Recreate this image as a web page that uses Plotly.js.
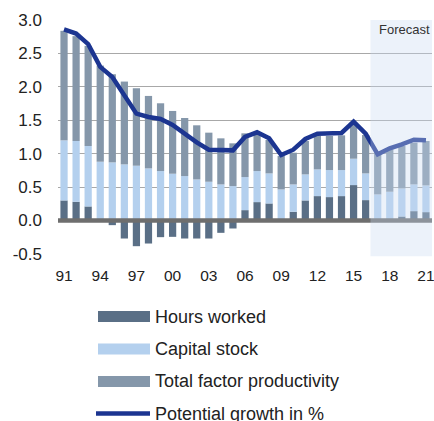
<!DOCTYPE html>
<html>
<head>
<meta charset="utf-8">
<script src="https://cdn.plot.ly/plotly-3.0.1.min.js"></script>
<style>
  html, body { margin: 0; padding: 0; background: #fff; }
  #plot { width: 434px; height: 421px; }
</style>
</head>
<body>
<div id="plot"></div>
<script>
// contributions to potential growth, percentage points
const years = [1991, 1992, 1993, 1994, 1995, 1996, 1997, 1998, 1999, 2000,
               2001, 2002, 2003, 2004, 2005, 2006, 2007, 2008, 2009, 2010,
               2011, 2012, 2013, 2014, 2015, 2016, 2017, 2018, 2019, 2020, 2021];
const hoursWorked = [0.30, 0.28, 0.21, 0.00, -0.07, -0.27, -0.385, -0.345, -0.25, -0.245,
                     -0.27, -0.27, -0.27, -0.185, -0.12, 0.155, 0.275, 0.255, 0.00, 0.13,
                     0.30, 0.365, 0.35, 0.365, 0.53, 0.305, 0.00, 0.00, 0.06, 0.14, 0.125];
const capitalStock = [0.90, 0.91, 0.905, 0.88, 0.87, 0.84, 0.82, 0.78, 0.74, 0.70,
                      0.665, 0.615, 0.58, 0.54, 0.515, 0.495, 0.465, 0.45, 0.465, 0.41,
                      0.39, 0.40, 0.405, 0.39, 0.395, 0.40, 0.39, 0.43, 0.42, 0.40, 0.40];
const tfp = [1.64, 1.57, 1.50, 1.44, 1.32, 1.24, 1.16, 1.085, 1.015, 0.94,
             0.87, 0.81, 0.735, 0.69, 0.64, 0.655, 0.54, 0.50, 0.50, 0.475,
             0.50, 0.50, 0.51, 0.52, 0.525, 0.575, 0.625, 0.635, 0.635, 0.625, 0.665];
const potentialGrowth = [2.86, 2.80, 2.64, 2.30, 2.15, 1.88, 1.60, 1.55, 1.52, 1.43,
                         1.29, 1.17, 1.06, 1.05, 1.05, 1.25, 1.32, 1.23, 0.98, 1.06,
                         1.22, 1.30, 1.31, 1.31, 1.48, 1.30, 0.99, 1.08, 1.14, 1.21, 1.20];
const seriesNames = ['Hours worked', 'Capital stock', 'Total factor productivity', 'Potential growth in %'];
const tickYears = [1991, 1994, 1997, 2000, 2003, 2006, 2009, 2012, 2015, 2018, 2021];
const yTicks = [-0.5, 0, 0.5, 1, 1.5, 2, 2.5, 3];
const forecastStart = 2016.4;

const colors = ['#5a6f86', '#b4d0ee', '#8597aa', '#1c3591'];
const FONT = 'Liberation Sans, Arial, sans-serif';

// plot box in pixels, used to place the hand-made legend
const W = 434, H = 421;
const M = {l: 58, r: 2, t: 20, b: 167};
const px = x => (x - M.l) / (W - M.l - M.r);
const py = y => (H - M.b - y) / (H - M.t - M.b);

const bar = (y, i) => ({
    x: years, y: y, type: 'bar', name: seriesNames[i],
    width: 0.6, marker: {color: colors[i], line: {width: 0}},
    hoverinfo: 'x+y', showlegend: false
});

const data = [
    bar(hoursWorked, 0),
    bar(capitalStock, 1),
    bar(tfp, 2),
    {
        x: years, y: potentialGrowth, type: 'scatter', mode: 'lines',
        name: seriesNames[3], line: {color: colors[3], width: 4.5},
        showlegend: false
    }
];

const shapes = [
    // zero line over the bars
    {type: 'line', xref: 'paper', yref: 'y', x0: 0, x1: 1, y0: 0, y1: 0,
     line: {color: '#6e6e6e', width: 4.5}, layer: 'above'},
    // forecast shading, on top so it lightens what is below
    {type: 'rect', xref: 'x', yref: 'paper', x0: forecastStart, x1: 2021.5, y0: -0.01, y1: 1,
     fillcolor: 'rgba(200,218,242,0.35)', line: {width: 0}, layer: 'above'}
];

const annotations = [
    {xref: 'x', yref: 'paper', x: 2019.2, y: 1.0, text: 'Forecast', showarrow: false,
     xanchor: 'center', yanchor: 'top', font: {family: FONT, size: 13, color: '#333'}}
];

// legend: wide flat swatches, one entry per row
const rowY = [316.5, 349, 381.5, 413.5];
seriesNames.forEach((name, i) => {
    if (i < 3) {
        shapes.push({type: 'rect', xref: 'paper', yref: 'paper',
            x0: px(98), x1: px(150), y0: py(rowY[i] + 5.5), y1: py(rowY[i] - 5.5),
            fillcolor: colors[i], line: {width: 0}});
    } else {
        shapes.push({type: 'line', xref: 'paper', yref: 'paper',
            x0: px(96), x1: px(150), y0: py(rowY[i]), y1: py(rowY[i]),
            line: {color: colors[i], width: 4.5}});
    }
    annotations.push({xref: 'paper', yref: 'paper', x: px(153), y: py(rowY[i]),
        text: name, showarrow: false, xanchor: 'left', yanchor: 'middle',
        font: {family: FONT, size: 18, color: '#222'}});
});

const layout = {
    width: W, height: H,
    margin: M,
    paper_bgcolor: '#fff', plot_bgcolor: '#fff',
    barmode: 'relative',
    bargap: 0.4,
    font: {family: FONT, color: '#222'},
    xaxis: {
        range: [1990.5, 2021.5],
        tickvals: tickYears,
        ticktext: tickYears.map(y => String(y).slice(2)),
        showgrid: false, zeroline: false, showline: false,
        ticks: '', ticklabelstandoff: 10, ticklabeloverflow: 'allow',
        tickfont: {family: FONT, size: 15.5, color: '#222'}
    },
    yaxis: {
        range: [-0.502, 3.002],
        tickvals: yTicks,
        ticktext: yTicks.map(v => v.toFixed(1)),
        showgrid: true, gridcolor: '#a8a8a8', gridwidth: 1,
        zeroline: false, showline: false,
        ticks: '', ticklabelstandoff: 15,
        tickfont: {family: FONT, size: 17, color: '#222'}
    },
    shapes: shapes,
    annotations: annotations,
    showlegend: false
};

Plotly.newPlot('plot', data, layout, {displayModeBar: false, staticPlot: true});
</script>
</body>
</html>
